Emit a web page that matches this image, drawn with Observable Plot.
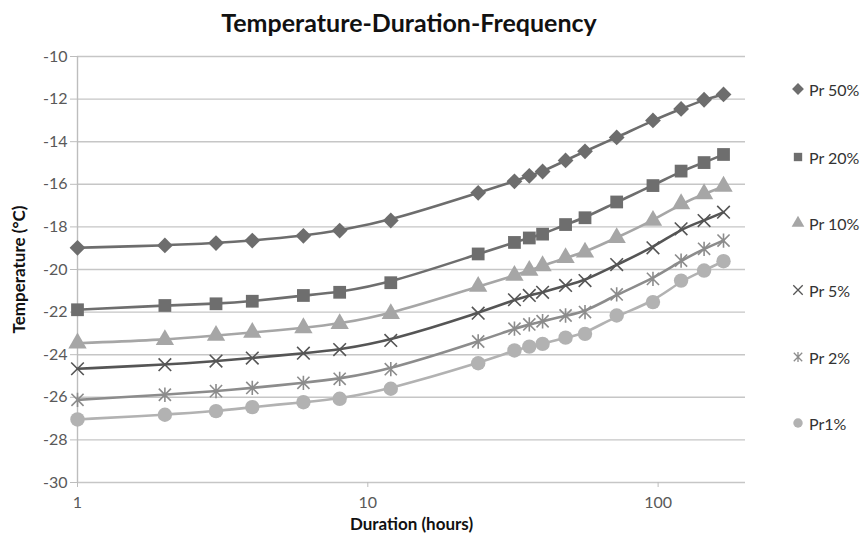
<!DOCTYPE html>
<html>
<head>
<meta charset="utf-8">
<script src="https://cdn.jsdelivr.net/npm/d3@7"></script>
<script src="https://cdn.jsdelivr.net/npm/@observablehq/plot@0.6"></script>
<style>
  html, body { margin: 0; padding: 0; background: #fff; }
  #wrap { position: relative; width: 863px; height: 536px; font-family: Lato, "Open Sans", sans-serif; }
  #title { height: 40px; line-height: 40px; text-align: center; font-weight: bold; font-size: 25px; color: #111; width: 818px; box-sizing: border-box; padding-top: 2px; }
  #legend { position: absolute; left: 789px; top: 0; }
  .item { position: absolute; left: 0; display: flex; align-items: center; white-space: nowrap; font-size: 16px; color: #333; }
  .item svg { margin-right: 2px; }
</style>
</head>
<body>
<div id="wrap">
  <div id="title">Temperature-Duration-Frequency</div>
  <div id="chart"></div>
  <div id="legend"></div>
</div>
<script>
const durations = [1, 2, 3, 4, 6, 8, 12, 24, 32, 36, 40, 48, 56, 72, 96, 120, 144, 168];
const pr50 = [-18.98, -18.87, -18.76, -18.64, -18.42, -18.17, -17.70, -16.40, -15.86, -15.60, -15.40, -14.88, -14.45, -13.80, -13.00, -12.46, -12.03, -11.78];
const pr20 = [-21.89, -21.69, -21.61, -21.49, -21.22, -21.07, -20.62, -19.27, -18.73, -18.52, -18.34, -17.89, -17.57, -16.83, -16.06, -15.38, -14.98, -14.60];
const pr10 = [-23.46, -23.30, -23.10, -22.96, -22.74, -22.55, -22.08, -20.80, -20.28, -20.05, -19.83, -19.45, -19.19, -18.51, -17.70, -16.92, -16.45, -16.10];
const pr5  = [-24.66, -24.47, -24.30, -24.16, -23.93, -23.76, -23.33, -22.05, -21.42, -21.22, -21.07, -20.75, -20.52, -19.77, -18.98, -18.09, -17.70, -17.31];
const pr2  = [-26.12, -25.88, -25.71, -25.56, -25.32, -25.13, -24.68, -23.38, -22.78, -22.58, -22.43, -22.16, -22.00, -21.17, -20.44, -19.58, -19.03, -18.64];
const pr1  = [-27.04, -26.82, -26.65, -26.46, -26.23, -26.07, -25.60, -24.40, -23.80, -23.62, -23.49, -23.20, -23.02, -22.16, -21.53, -20.52, -20.05, -19.61];

const seriesNames = ["Pr 50%", "Pr 20%", "Pr 10%", "Pr 5%", "Pr 2%", "Pr1%"];
const seriesValues = [pr50, pr20, pr10, pr5, pr2, pr1];
const seriesColors = ["#6d6d6d", "#6e6e6e", "#a6a6a6", "#555555", "#8c8c8c", "#b2b2b2"];
const seriesFilled = [true, true, true, false, false, true];
const seriesR = [6.3, 7.2, 6.8, 6.3, 6.8, 7.2];

const xTicks = [1, 10, 100];
const yTicks = [-30, -28, -26, -24, -22, -20, -18, -16, -14, -12, -10];

// Excel-like marker shapes
const symDiamond = {draw(ctx, size) { const r = Math.sqrt(size / 2); ctx.moveTo(0, -r); ctx.lineTo(r, 0); ctx.lineTo(0, r); ctx.lineTo(-r, 0); ctx.closePath(); }};
const symAsterisk = {draw(ctx, size) { const r = Math.sqrt(size / Math.PI) * 1.05; const a = r * 0.85;
  ctx.moveTo(-a, -a); ctx.lineTo(a, a); ctx.moveTo(-a, a); ctx.lineTo(a, -a); ctx.moveTo(0, -r); ctx.lineTo(0, r); }};
const symTimes = {draw(ctx, size) { const a = Math.sqrt(size / Math.PI) * 1.0;
  ctx.moveTo(-a, -a); ctx.lineTo(a, a); ctx.moveTo(-a, a); ctx.lineTo(a, -a); }};
const seriesSymbols = [symDiamond, d3.symbolSquare, d3.symbolTriangle, symTimes, symAsterisk, d3.symbolCircle];

const rows = [];
seriesNames.forEach((name, i) => {
  durations.forEach((d, j) => rows.push({series: name, duration: d, temp: seriesValues[i][j]}));
});

const marks = [
  Plot.ruleY(yTicks, {stroke: "#c6c6c6", strokeWidth: 1.4}),
  Plot.ruleX([1], {stroke: "#bdbdbd", strokeWidth: 1.4}),
  Plot.axisY({ticks: yTicks, tickSize: 7, tickPadding: 3, tickFormat: d => String(d), label: null, fontSize: 16, color: "#595959", stroke: "#bdbdbd"}),
  Plot.axisX({ticks: xTicks, tickSize: 5, tickPadding: 9, tickFormat: d => String(d), label: null, fontSize: 16, color: "#595959", stroke: "#bdbdbd"})
];
seriesNames.forEach((name, i) => {
  const data = rows.filter(r => r.series === name);
  marks.push(Plot.line(data, {x: "duration", y: "temp", stroke: seriesColors[i], strokeWidth: 2.6, curve: "basis"}));
  marks.push(Plot.dot(data, {
    x: "duration", y: "temp", symbol: seriesSymbols[i], r: seriesR[i],
    ...(seriesFilled[i] ? {fill: seriesColors[i], stroke: "none"} : {stroke: seriesColors[i], strokeWidth: 1.6, fill: "none"})
  }));
});
marks.push(Plot.text(["Duration (hours)"], {frameAnchor: "bottom", dy: 42, text: d => d, fontWeight: "bold", fontSize: 17, fill: "#111", lineAnchor: "middle", textAnchor: "middle"}));
marks.push(Plot.text(["Temperature (°C)"], {frameAnchor: "left", dx: -58, text: d => d, rotate: -90, fontWeight: "bold", fontSize: 17, fill: "#111", lineAnchor: "middle", textAnchor: "middle"}));

const chart = Plot.plot({
  width: 863,
  height: 496,
  marginTop: 16,
  marginLeft: 77,
  marginRight: 118,
  marginBottom: 54,
  style: {fontFamily: "Lato, 'Open Sans', sans-serif", background: "#fff", overflow: "visible"},
  x: {type: "log", domain: [1, 200], axis: null},
  y: {domain: [-30, -10], axis: null},
  marks
});
document.getElementById("chart").appendChild(chart);

// Legend
const legendY = [89, 157, 223, 290, 357, 423];
const legend = document.getElementById("legend");
seriesNames.forEach((name, i) => {
  const item = document.createElement("div");
  item.className = "item";
  item.style.top = (legendY[i] - 11) + "px";
  item.style.height = "22px";
  const svg = d3.create("svg").attr("width", 18).attr("height", 18);
  const path = svg.append("path")
    .attr("transform", "translate(9,9)")
    .attr("d", d3.symbol(seriesSymbols[i], 70)());
  if (seriesFilled[i]) path.attr("fill", seriesColors[i]);
  else path.attr("fill", "none").attr("stroke", seriesColors[i]).attr("stroke-width", 1.3);
  item.appendChild(svg.node());
  const span = document.createElement("span");
  span.textContent = name;
  item.appendChild(span);
  legend.appendChild(item);
});
</script>
</body>
</html>
